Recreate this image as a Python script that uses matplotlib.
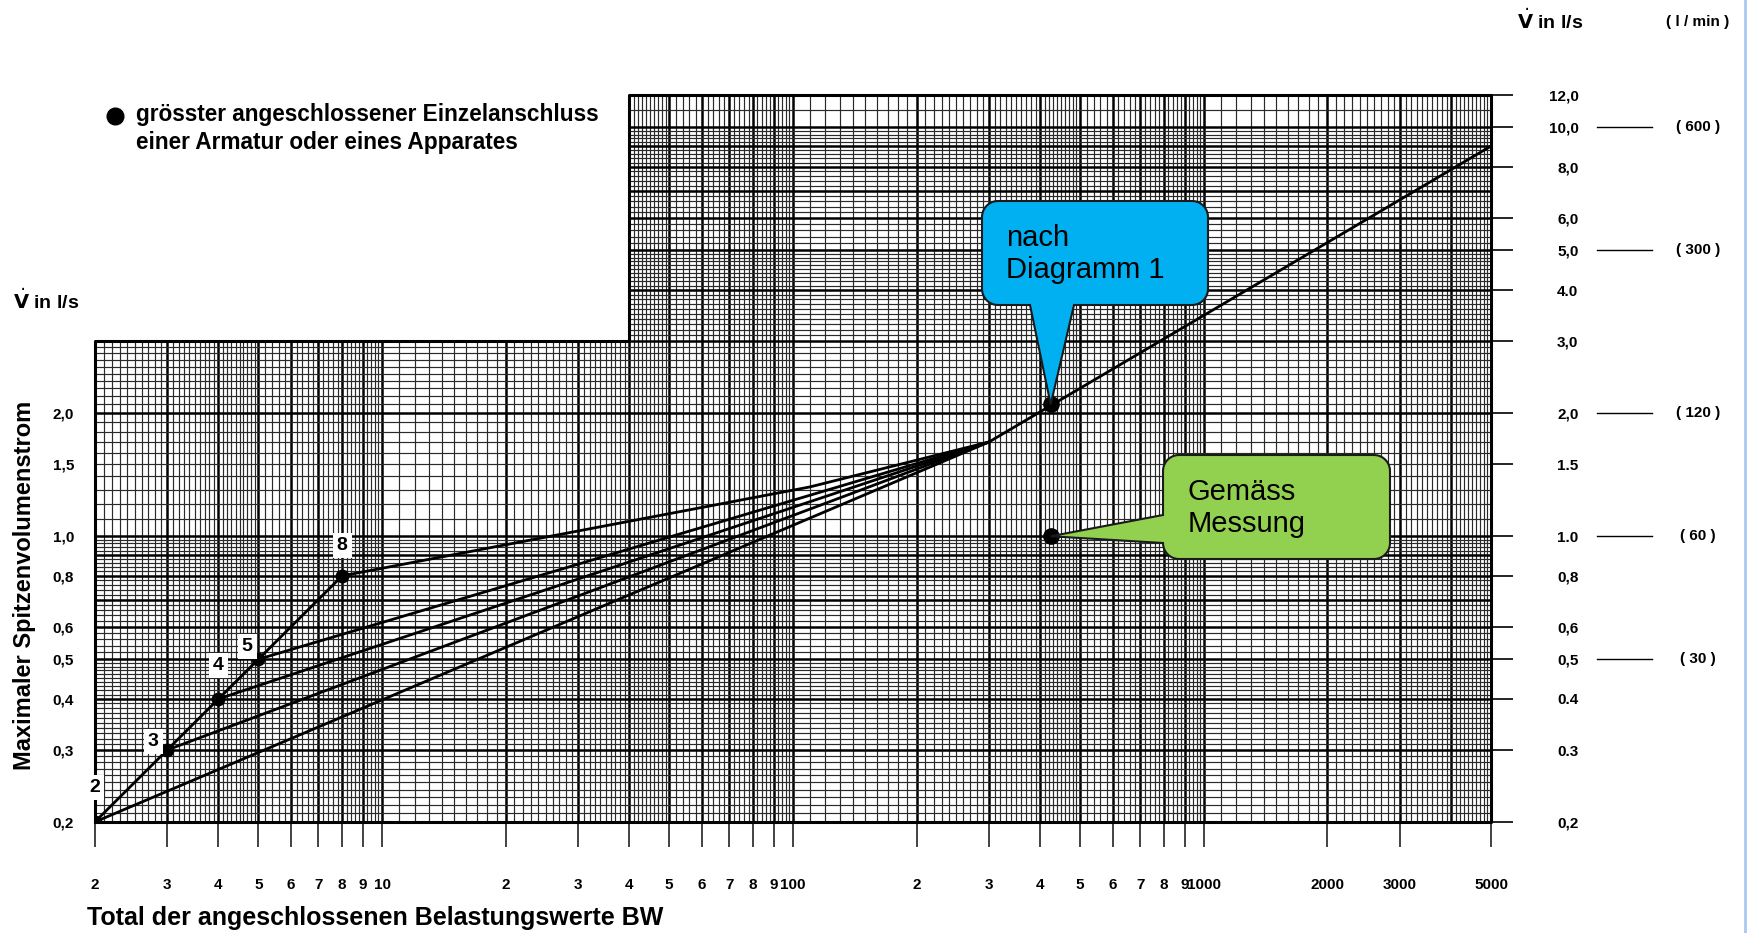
import numpy as np
import matplotlib
matplotlib.use('Agg')
import matplotlib.pyplot as plt
from matplotlib.path import Path
from matplotlib.patches import PathPatch
from matplotlib.transforms import blended_transform_factory

# chart values
chain_bw = [2, 3, 4, 5, 8]
chain_flow = [0.2, 0.3, 0.4, 0.5, 0.8]
chain_labels = ['2', '3', '4', '5', '8']

merge_bw, merge_flow = 300, 1.7
line8_bw = [8, 110, 300]
line8_flow = [0.8, 1.32, 1.7]
upper_bw = [300, 5000]
upper_flow = [1.7, 9.0]

diag_bw, diag_flow = 424, 2.1
meas_bw, meas_flow = 424, 1.0

x_ticks = [2, 3, 4, 5, 6, 7, 8, 9, 10, 20, 30, 40, 50, 60, 70, 80, 90, 100,
           200, 300, 400, 500, 600, 700, 800, 900, 1000, 2000, 3000, 5000]
x_tick_labels = ['2', '3', '4', '5', '6', '7', '8', '9', '10',
                 '2', '3', '4', '5', '6', '7', '8', '9', '100',
                 '2', '3', '4', '5', '6', '7', '8', '9', '1000',
                 '2000', '3000', '5000']
left_y_ticks = [0.2, 0.3, 0.4, 0.5, 0.6, 0.8, 1.0, 1.5, 2.0]
left_y_labels = ['0,2', '0,3', '0,4', '0,5', '0,6', '0,8', '1,0', '1,5', '2,0']
right_y_ticks = [0.2, 0.3, 0.4, 0.5, 0.6, 0.8, 1.0, 1.5, 2.0, 3.0, 4.0, 5.0,
                 6.0, 8.0, 10.0, 12.0]
right_y_labels = ['0,2', '0.3', '0.4', '0,5', '0,6', '0,8', '1.0', '1.5', '2,0',
                  '3,0', '4.0', '5,0', '6,0', '8,0', '10,0', '12,0']
lmin_flow = [10.0, 5.0, 2.0, 1.0, 0.5]
lmin_labels = ['( 600 )', '( 300 )', '( 120 )', '( 60 )', '( 30 )']

# grid extents (stepped outline of the log paper)
X_MIN, X_MAX, X_STEP = 2, 5000, 40
Y_MIN, Y_MAX, Y_STEP = 0.2, 12, 3.0

narrow = ['Liberation Sans Narrow', 'Liberation Sans', 'DejaVu Sans']
plain = ['Liberation Sans', 'Arial', 'DejaVu Sans']

W, H = 1749, 933
fig = plt.figure(figsize=(W / 100, H / 100), dpi=100)
fig.patch.set_facecolor('white')

ax = fig.add_axes([94.8 / W, (H - 822) / H, (1491 - 94.8) / W, (822 - 95) / H])
ax.set_xscale('log')
ax.set_yscale('log')
ax.set_xlim(X_MIN, X_MAX)
ax.set_ylim(Y_MIN, Y_MAX)
for s in ax.spines.values():
    s.set_visible(False)
ax.patch.set_alpha(0)


def log_lines(lo, hi):
    vals, major = [], []
    for e in range(-1, 4):
        d = 10.0 ** e
        ms = list(np.arange(1.0, 5.0, 0.1)) + list(np.arange(5.0, 10.0, 0.2))
        for m in ms:
            v = round(m * d, 6)
            if lo - 1e-9 <= v <= hi + 1e-9:
                vals.append(v)
                major.append(abs(m - round(m)) < 1e-6)
    return vals, major


MINOR_C, MINOR_W = '#2a2a2a', 0.85
MAJOR_C, MAJOR_W = '#000000', 1.8

xv, xmaj = log_lines(X_MIN, X_MAX)
for v, mj in zip(xv, xmaj):
    top = Y_STEP if v < X_STEP - 1e-9 else Y_MAX
    ax.plot([v, v], [Y_MIN, top], color=MAJOR_C if mj else MINOR_C,
            lw=MAJOR_W if mj else MINOR_W, zorder=1)
yv, ymaj = log_lines(Y_MIN, Y_MAX)
for v, mj in zip(yv, ymaj):
    left = X_MIN if v <= Y_STEP + 1e-9 else X_STEP
    ax.plot([left, X_MAX], [v, v], color=MAJOR_C if mj else MINOR_C,
            lw=MAJOR_W if mj else MINOR_W, zorder=1)
# outline
ax.plot([X_MIN, X_MIN, X_STEP, X_STEP, X_MAX, X_MAX, X_MIN],
        [Y_MIN, Y_STEP, Y_STEP, Y_MAX, Y_MAX, Y_MIN, Y_MIN],
        color='black', lw=2.2, zorder=2, clip_on=False)

# curves
ax.plot(chain_bw, chain_flow, color='black', lw=2, zorder=3)
for b, f in zip(chain_bw[:-1], chain_flow[:-1]):
    ax.plot([b, merge_bw], [f, merge_flow], color='black', lw=2, zorder=3)
ax.plot(line8_bw, line8_flow, color='black', lw=2, zorder=3)
ax.plot(upper_bw, upper_flow, color='black', lw=2, zorder=3)
ax.plot(chain_bw, chain_flow, 'o', color='black', ms=9, zorder=4)

offsets = [(0, 25), (-10, 6), (0, 24), (-8, 9), (0, 22)]
for b, f, lbl, off in zip(chain_bw, chain_flow, chain_labels, offsets):
    ax.annotate(lbl, (b, f), xytext=off, textcoords='offset points',
                ha='center', va='center', fontsize=14, fontweight='bold',
                family=narrow, zorder=5,
                bbox=dict(boxstyle='square,pad=0.2', fc='white', ec='none'))

ax.plot([diag_bw, meas_bw], [diag_flow, meas_flow], 'o', color='black',
        ms=11, zorder=6)

# x ticks below the grid
ax.set_xticks(x_ticks, x_tick_labels)
ax.xaxis.set_minor_locator(matplotlib.ticker.NullLocator())
ax.tick_params(axis='x', which='major', length=18, width=1.2, pad=22,
               direction='out', color='#222222')
for t in ax.get_xticklabels():
    t.set_family(narrow)
    t.set_fontweight('bold')
    t.set_fontsize(11)

# left y labels
ax.set_yticks(left_y_ticks, left_y_labels)
ax.yaxis.set_minor_locator(matplotlib.ticker.NullLocator())
ax.tick_params(axis='y', which='major', length=0, pad=15)
for t in ax.get_yticklabels():
    t.set_family(narrow)
    t.set_fontweight('bold')
    t.set_fontsize(11)

# right y labels
axr = ax.twinx()
axr.set_yscale('log')
axr.set_ylim(Y_MIN, Y_MAX)
for s in axr.spines.values():
    s.set_visible(False)
axr.set_yticks(right_y_ticks, right_y_labels)
axr.yaxis.set_minor_locator(matplotlib.ticker.NullLocator())
axr.tick_params(axis='y', which='major', length=16, width=1.2, pad=47,
                direction='out')
for t in axr.get_yticklabels():
    t.set_family(narrow)
    t.set_fontweight('bold')
    t.set_fontsize(11)
    t.set_horizontalalignment('right')

# overlay in pixel coordinates (y down)
ov = fig.add_axes([0, 0, 1, 1], zorder=10)
ov.set_xlim(0, W)
ov.set_ylim(H, 0)
ov.axis('off')
ov.patch.set_alpha(0)

trans = blended_transform_factory(ov.transData, ax.transData)
for f, lbl in zip(lmin_flow, lmin_labels):
    ov.plot([1597, 1652], [f, f], color='black', lw=1, transform=trans)
    ov.text(1698, f, lbl, transform=trans, ha='center', va='center',
            fontsize=11, fontweight='bold', family=narrow)


def to_px(x, y):
    px = ax.transData.transform((x, y))
    return px[0], H - px[1]


def callout(x0, y0, x1, y1, r, side, a, b, tip, color):
    def arc(cx, cy, t0, t1):
        t = np.radians(np.linspace(t0, t1, 12))
        return list(zip(cx + r * np.cos(t), cy + r * np.sin(t)))
    pts = [(x0 + r, y0), (x1 - r, y0)]
    pts += arc(x1 - r, y0 + r, -90, 0)
    pts += arc(x1 - r, y1 - r, 0, 90)
    if side == 'bottom':
        pts += [(b, y1), tip, (a, y1)]
    pts += arc(x0 + r, y1 - r, 90, 180)
    if side == 'left':
        pts += [(x0, b), tip, (x0, a)]
    pts += arc(x0 + r, y0 + r, 180, 270)
    pts.append(pts[0])
    path = Path(pts, closed=True)
    ov.add_patch(PathPatch(path, fc=color, ec='#1a1a1a', lw=1.5, zorder=11))


callout(982, 201, 1208, 305, 16, 'bottom', 1030, 1074,
        to_px(diag_bw, diag_flow), '#00B0F0')
callout(1163, 455, 1390, 559, 16, 'left', 515, 543,
        to_px(meas_bw, meas_flow), '#92D050')
ov.text(1006, 254, 'nach\nDiagramm 1', ha='left', va='center', fontsize=21,
        family=plain, linespacing=1.15, zorder=12)
ov.text(1188, 508, 'Gemäss\nMessung', ha='left', va='center', fontsize=21,
        family=plain, linespacing=1.15, zorder=12)

# legend note
ov.plot([115], [116], 'o', color='black', ms=12)
ov.text(136, 115, 'grösster angeschlossener Einzelanschluss', ha='left',
        va='center', fontsize=16.3, fontweight='bold', family=plain)
ov.text(136, 143, 'einer Armatur oder eines Apparates', ha='left',
        va='center', fontsize=16.3, fontweight='bold', family=plain)

# axis titles
ov.text(13, 301, r'$\dot{\mathbf{V}}$ in l/s', ha='left', va='center',
        fontsize=14, fontweight='bold', family=plain)
ov.text(1550, 21, r'$\dot{\mathbf{V}}$ in l/s', ha='center', va='center',
        fontsize=14, fontweight='bold', family=plain)
ov.text(1698, 22, '( l / min )', ha='center', va='center', fontsize=11,
        fontweight='bold', family=narrow)
ov.text(25, 585, 'Maximaler Spitzenvolumenstrom', rotation=90, ha='center',
        va='center', fontsize=17, fontweight='bold', family=plain)
ov.text(87, 918, 'Total der angeschlossenen Belastungswerte BW', ha='left',
        va='center', fontsize=18, fontweight='bold', family=plain)

# page edge
ov.plot([1745, 1745], [0, H], color='#a9c9f2', lw=2)

fig.savefig('out.png', dpi=100)
